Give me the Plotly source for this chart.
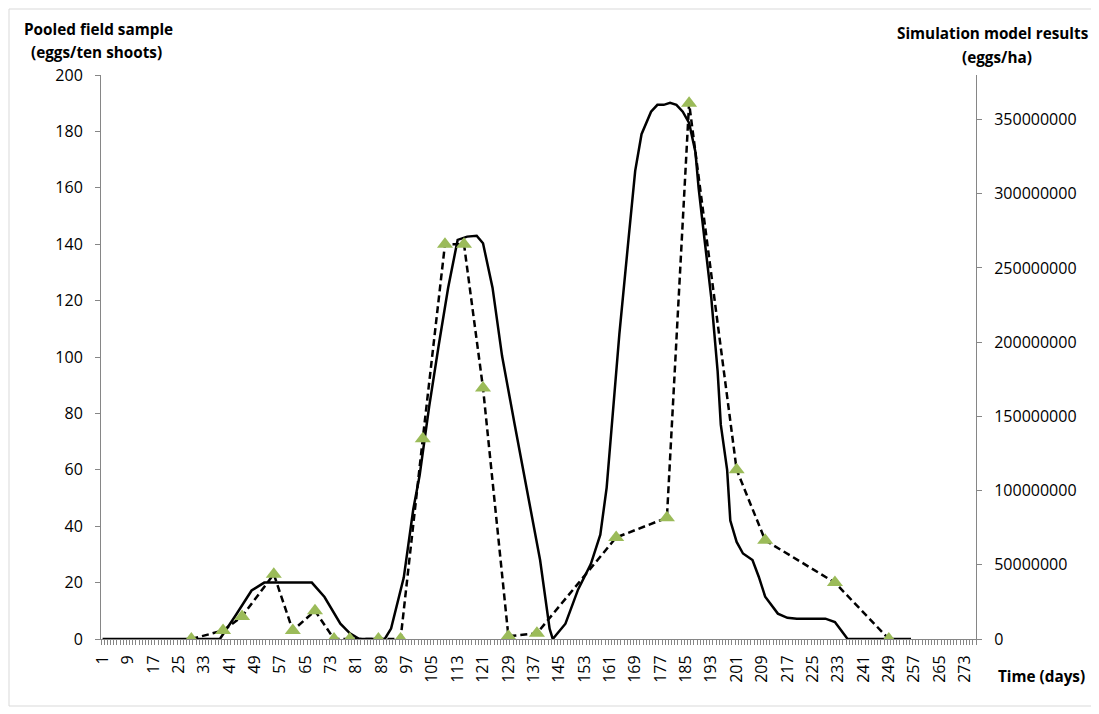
import plotly.graph_objects as go

# ---- data ----
# x-axis category labels (days)
tick_days = list(range(1, 277, 8))
tick_labels = [str(d) for d in tick_days]

# Pooled field sample (eggs/ten shoots) - left axis
field_days = [29, 39, 45, 55, 61, 68, 74, 79, 88, 95, 102, 109, 115, 121, 129, 138,
              163, 179, 186, 201, 210, 232, 249]
field_eggs = [0, 3, 8, 23, 3, 10, 0, 0, 0, 0, 71, 140, 140, 89, 1, 2,
              36, 43, 190, 60, 35, 20, 0]

# Simulation model results (eggs/ha) - right axis
sim_days = [1, 38, 43, 48, 52, 67, 71, 76, 79, 82, 90, 92, 96, 99, 101, 104, 107, 110,
            113, 116, 119, 121, 124, 127, 131, 135, 139, 142, 143, 147, 151, 155, 158,
            160, 162, 164, 167, 169, 171, 174, 176, 178, 180, 182, 184, 186, 188, 189,
            191, 193, 195, 196, 198, 199, 201, 203, 206, 208, 210, 214, 217, 220, 229,
            232, 234, 236, 256]
sim_eggs = [0, 0, 16000000, 32700000, 38000000, 38000000, 28300000, 10300000, 3800000, 0,
            0, 7000000, 41400000, 87400000, 110200000, 156400000, 197600000, 236700000,
            268900000, 271100000, 271700000, 266600000, 236700000, 190800000, 144400000,
            98800000, 53200000, 7000000, 0, 10300000, 33400000, 50500000, 70300000,
            102000000, 156200000, 205200000, 271700000, 315400000, 340100000, 355300000,
            359900000, 359900000, 361200000, 359900000, 355300000, 347700000, 328100000,
            304000000, 266800000, 229900000, 180500000, 144400000, 114000000, 79800000,
            65400000, 57600000, 53200000, 41800000, 28500000, 17100000, 14300000,
            13700000, 13700000, 11400000, 5700000, 0, 0]

FONT = "Open Sans"
AXIS_COLOR = "#868686"
TICK_SIZE = 16
TITLE_SIZE = 15.3

fig = go.Figure()

fig.add_trace(go.Scatter(
    x=sim_days, y=sim_eggs, mode="lines",
    line=dict(color="black", width=2.5),
    yaxis="y", name="Simulation model results",
))

fig.add_trace(go.Scatter(
    x=field_days, y=field_eggs, mode="lines+markers",
    line=dict(color="black", width=2.5, dash="7px,4px"),
    marker=dict(symbol="triangle-up", size=14, color="#9BBB59",
                line=dict(width=0)),
    yaxis="y2", name="Pooled field sample",
))

# page has an 8px body margin: plot area spans page px x 101..976, y 75..639
fig.update_layout(
    width=1091, height=706,
    margin=dict(l=93, r=123, t=67, b=75),
    paper_bgcolor="white", plot_bgcolor="white",
    showlegend=False,
    font=dict(family=FONT, size=TICK_SIZE, color="black"),
    xaxis=dict(
        range=[0.5, 276.5],
        tickmode="array", tickvals=tick_days, ticktext=tick_labels,
        tickangle=-90, ticks="", showgrid=False, zeroline=False,
        showline=True, linecolor=AXIS_COLOR, linewidth=1,
        tickfont=dict(family=FONT, size=TICK_SIZE, color="black"),
        ticklabelstandoff=9,
        minor=dict(tick0=0.5, dtick=1, ticks="outside", ticklen=5,
                   tickcolor=AXIS_COLOR, tickwidth=1, showgrid=False),
    ),
    yaxis=dict(
        side="right", range=[0, 380000000], dtick=50000000, tickformat="d",
        showgrid=False, zeroline=False, showline=True, linecolor=AXIS_COLOR,
        ticks="outside", ticklen=5, tickcolor=AXIS_COLOR,
        tickfont=dict(family=FONT, size=TICK_SIZE, color="black"),
        ticklabelstandoff=9,
    ),
    yaxis2=dict(
        overlaying="y", side="left", range=[0, 200], dtick=20,
        showgrid=False, zeroline=False, showline=True, linecolor=AXIS_COLOR,
        ticks="outside", ticklen=5, tickcolor=AXIS_COLOR,
        tickfont=dict(family=FONT, size=TICK_SIZE, color="black"),
        ticklabelstandoff=9,
    ),
)

def px_x(px):
    return (px - 101) / 875.0

def px_y(py):
    return (639 - py) / 564.0

titles = [
    ("Pooled field sample", 98, 29),
    ("(eggs/ten shoots)", 96.5, 52),
    ("Simulation model results", 993, 33),
    ("(eggs/ha)", 997, 57),
    ("Time (days)", 1041, 676),
]
for text, cx, cy in titles:
    fig.add_annotation(
        text=f"<b>{text}</b>", xref="paper", yref="paper",
        x=px_x(cx), y=px_y(cy), xanchor="center", yanchor="middle",
        showarrow=False, font=dict(family=FONT, size=TITLE_SIZE, color="black"),
    )

# chart-area border
fig.add_shape(type="rect", xref="paper", yref="paper",
              x0=px_x(9), x1=px_x(1093), y0=px_y(706), y1=px_y(9),
              line=dict(color="#d9d9d9", width=1), layer="below")

fig.write_html("out.html")
